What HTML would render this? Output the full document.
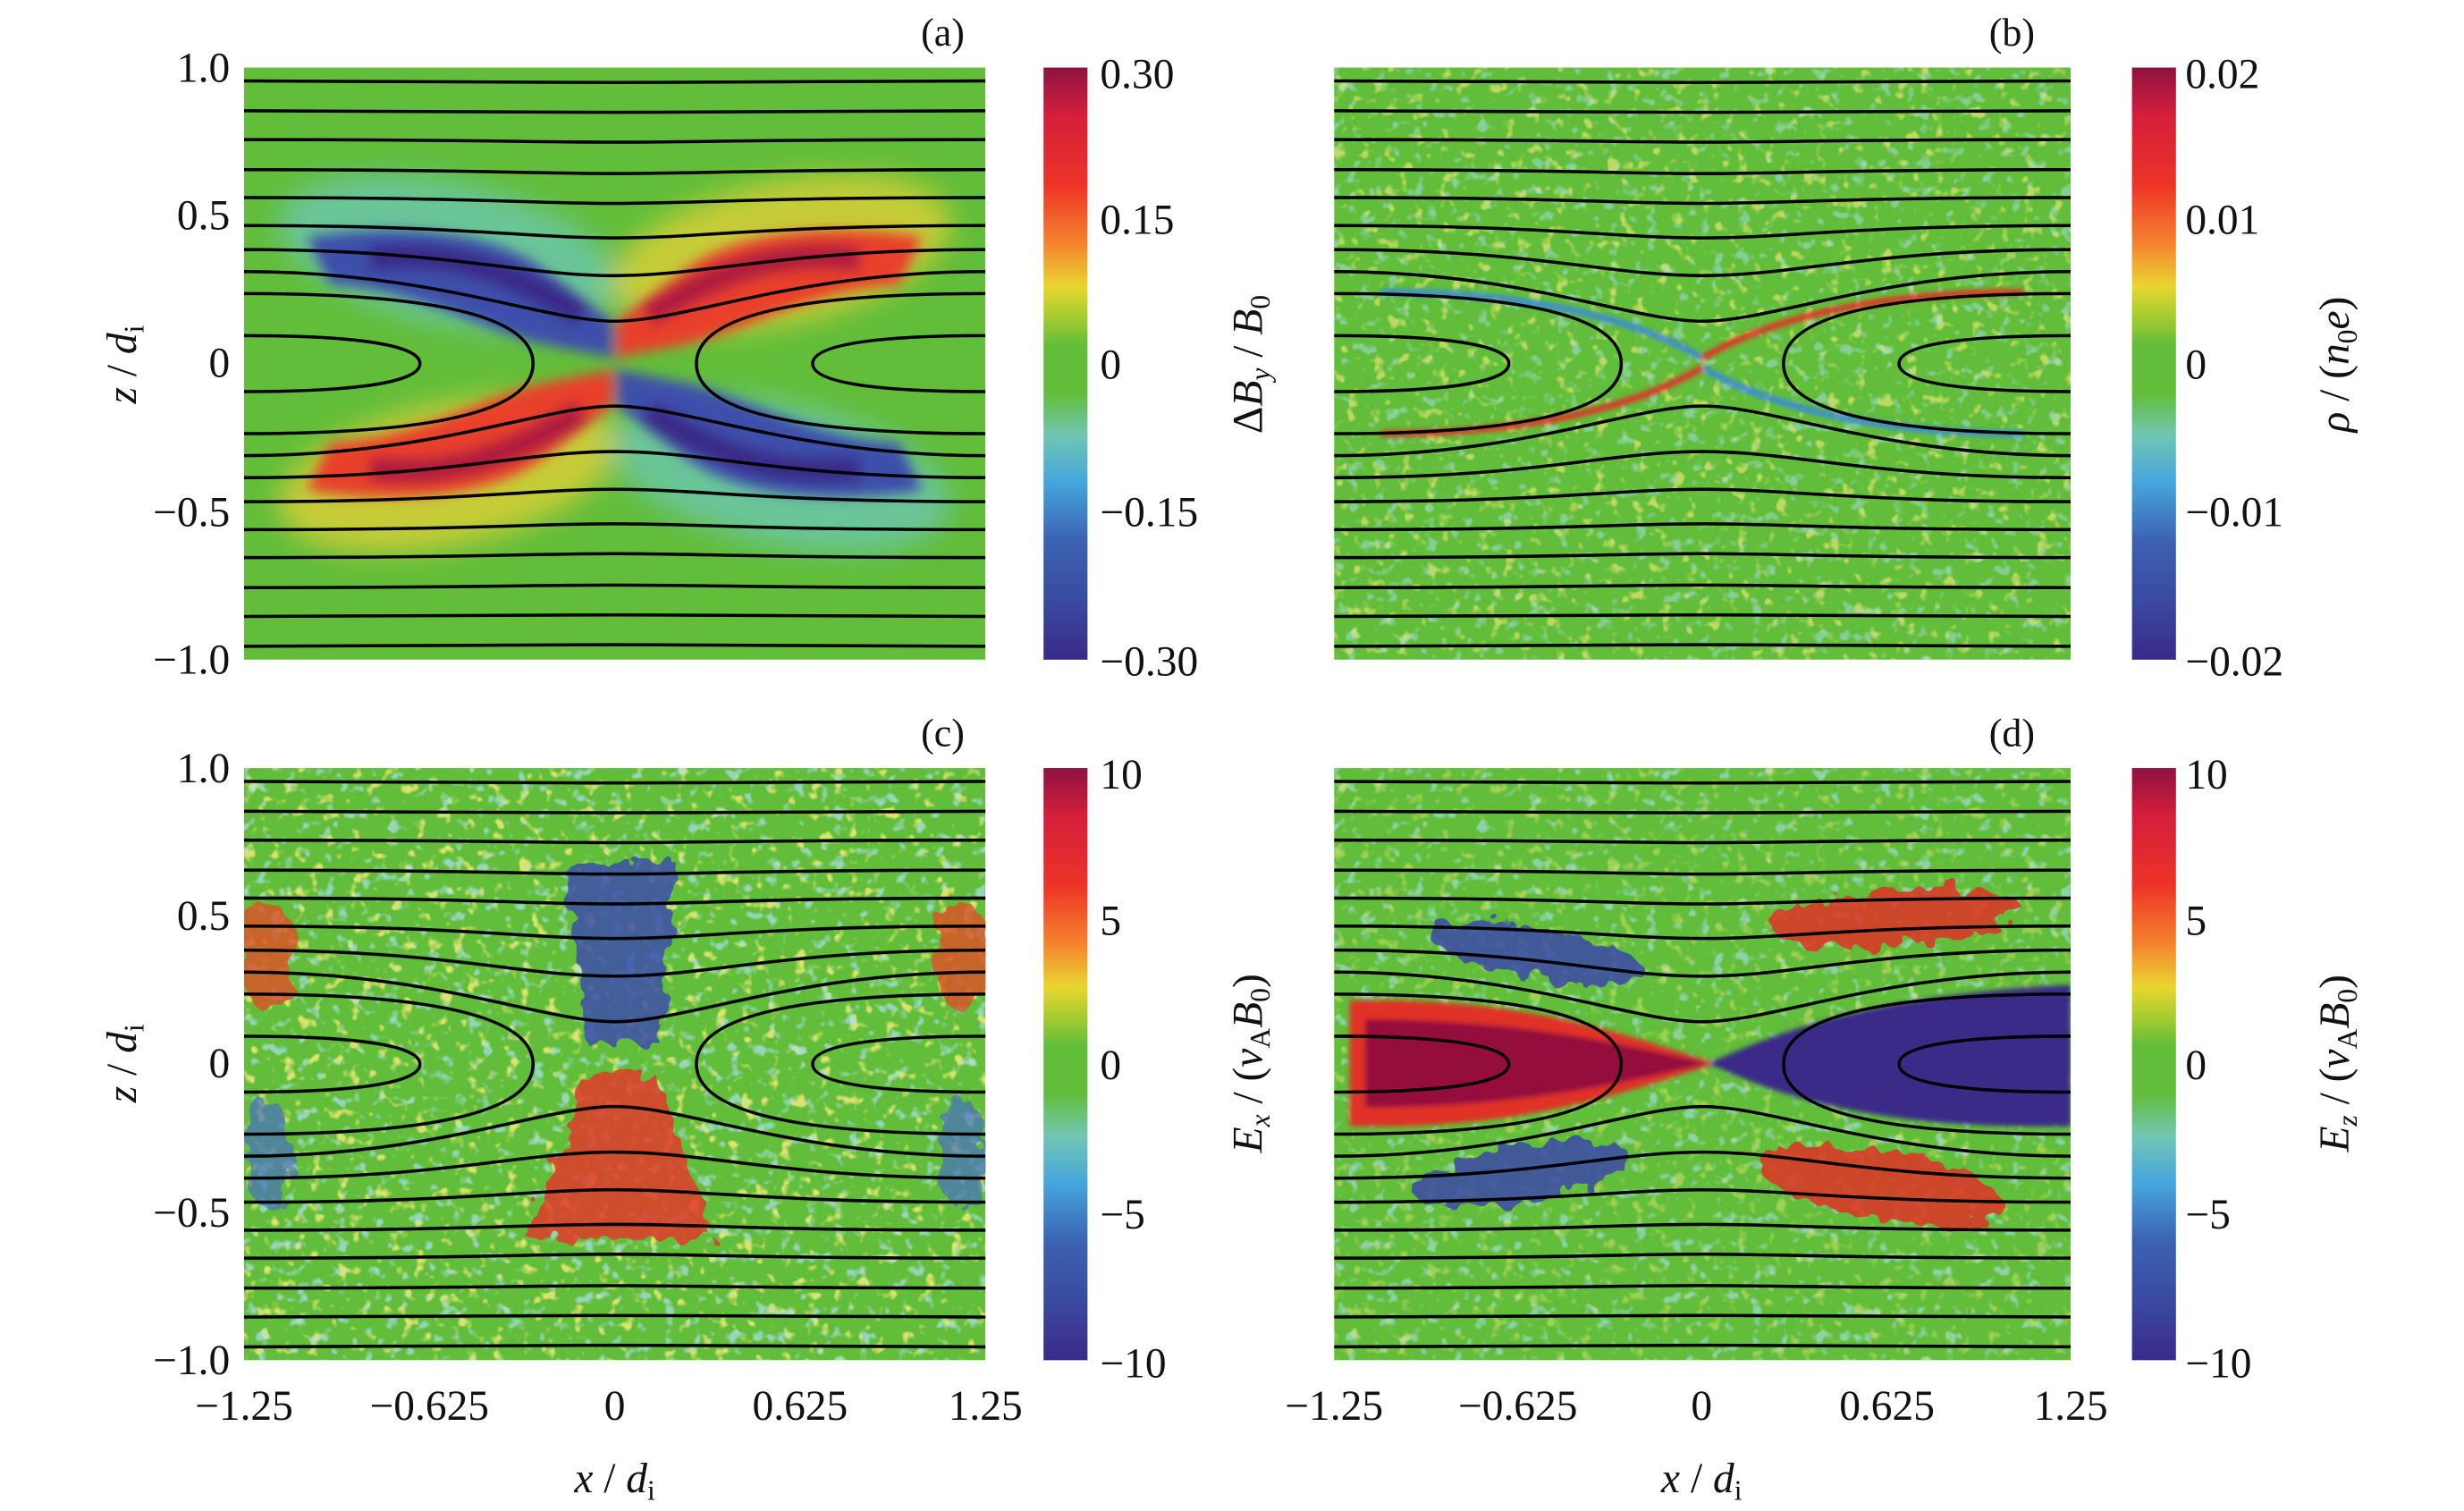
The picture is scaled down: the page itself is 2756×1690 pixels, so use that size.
<!DOCTYPE html>
<html><head><meta charset="utf-8"><style>html,body{margin:0;padding:0;background:#fff}svg{display:block}</style></head>
<body>
<svg xmlns="http://www.w3.org/2000/svg" width="2756" height="1690" viewBox="0 0 1568 962" style="font-family:'Liberation Serif',serif" font-size="27">
<defs>
<filter id="bl" x="-50%" y="-50%" width="200%" height="200%"><feGaussianBlur stdDeviation="9"/></filter>
<filter id="bl2" x="-50%" y="-50%" width="200%" height="200%"><feGaussianBlur stdDeviation="4"/></filter>
<filter id="bl1" x="-50%" y="-50%" width="200%" height="200%"><feGaussianBlur stdDeviation="1.5"/></filter>
<filter id="spk" x="0" y="0" width="100%" height="100%">
<feTurbulence type="fractalNoise" baseFrequency="0.12" numOctaves="2" seed="3"/>
<feColorMatrix type="matrix" values="0 0 0 0 0.95  0 0 0 0 0.85  0 0 0 0 0.2  6 0 0 0 -3.6"/>
</filter>
<filter id="spk2" x="0" y="0" width="100%" height="100%">
<feTurbulence type="fractalNoise" baseFrequency="0.12" numOctaves="2" seed="11"/>
<feColorMatrix type="matrix" values="0 0 0 0 0.4  0 0 0 0 0.75  0 0 0 0 0.85  6 0 0 0 -3.6"/>
</filter>
<filter id="rough" x="-20%" y="-20%" width="140%" height="140%">
<feTurbulence type="fractalNoise" baseFrequency="0.08" numOctaves="2" seed="5" result="n"/>
<feDisplacementMap in="SourceGraphic" in2="n" scale="18"/>
</filter>
<linearGradient id="cb" x1="0" y1="0" x2="0" y2="1">
<stop offset="0" stop-color="#8e1240"/><stop offset="0.08" stop-color="#d41e3c"/>
<stop offset="0.2" stop-color="#ee3426"/><stop offset="0.3" stop-color="#f5862e"/>
<stop offset="0.37" stop-color="#e8d630"/><stop offset="0.42" stop-color="#a6cc30"/>
<stop offset="0.47" stop-color="#62bd3a"/><stop offset="0.55" stop-color="#62bd3a"/>
<stop offset="0.62" stop-color="#72c6b2"/><stop offset="0.7" stop-color="#46a6dc"/>
<stop offset="0.8" stop-color="#3c62b2"/><stop offset="0.9" stop-color="#3a4aa0"/>
<stop offset="1" stop-color="#3a2a88"/></linearGradient>
<clipPath id="cp"><rect x="0" y="0" width="472" height="377"/></clipPath>
<g id="lines" fill="none" stroke="#000" stroke-width="2">
<path d="M0,8.5 C150,8.5 180,9.5 236,9.5 C292,9.5 322,8.5 472,8.5"/>
<path d="M0,27.5 C150,27.5 180,28.5 236,28.5 C292,28.5 322,27.5 472,27.5"/>
<path d="M0,45.9 C150,45.9 180,47.5 236,47.5 C292,47.5 322,45.9 472,45.9"/>
<path d="M0,65 C150,65 180,67.5 236,67.5 C292,67.5 322,65 472,65"/>
<path d="M0,82.8 C150,82.8 180,86.5 236,86.5 C292,86.5 322,82.8 472,82.8"/>
<path d="M0,100.6 C140,100.6 180,108.5 236,108.5 C292,108.5 332,100.6 472,100.6"/>
<path d="M0,115.9 C130,115.9 175,132.5 236,132.5 C297,132.5 342,115.9 472,115.9"/>
<path d="M0,129.9 C120,129.9 190,161.5 236,161.5 C282,161.5 352,129.9 472,129.9"/>
<path d="M0,368.5 C150,368.5 180,367.5 236,367.5 C292,367.5 322,368.5 472,368.5"/>
<path d="M0,349.5 C150,349.5 180,348.5 236,348.5 C292,348.5 322,349.5 472,349.5"/>
<path d="M0,331.1 C150,331.1 180,329.5 236,329.5 C292,329.5 322,331.1 472,331.1"/>
<path d="M0,312 C150,312 180,309.5 236,309.5 C292,309.5 322,312 472,312"/>
<path d="M0,294.2 C150,294.2 180,290.5 236,290.5 C292,290.5 322,294.2 472,294.2"/>
<path d="M0,276.4 C140,276.4 180,268.5 236,268.5 C292,268.5 332,276.4 472,276.4"/>
<path d="M0,261.1 C130,261.1 175,244.5 236,244.5 C297,244.5 342,261.1 472,261.1"/>
<path d="M0,247.1 C120,247.1 190,215.5 236,215.5 C282,215.5 352,247.1 472,247.1"/>
<path d="M0,143.9 C120,143.9 184,158 184,188.5 C184,219 120,233.1 0,233.1"/>
<path d="M0,170.7 C80,170.7 112,178 112,188.5 C112,199 80,206.3 0,206.3"/>
<path d="M472,143.9 C352,143.9 288,158 288,188.5 C288,219 352,233.1 472,233.1"/>
<path d="M472,170.7 C392,170.7 362,178 362,188.5 C362,199 392,206.3 472,206.3"/>
</g>
<g id="ulblue">
<path d="M40,108 C100,98 160,105 190,128 C210,142 225,155 235,162 L235,185 C215,180 195,178 175,172 C140,160 100,140 55,138 Z"/>
</g>
</defs>
<rect width="1568" height="962" fill="#fff"/>

<!-- Panel a -->
<g transform="translate(155,43)">
<g clip-path="url(#cp)">
<rect width="472" height="377" fill="#62bd3a"/>
<g filter="url(#bl)" opacity="0.8">
<ellipse cx="130" cy="118" rx="110" ry="45" fill="#6cc8b0" transform="rotate(12 130 118)"/>
<ellipse cx="342" cy="118" rx="110" ry="45" fill="#e0d038" transform="rotate(-12 342 118)"/>
<ellipse cx="130" cy="259" rx="110" ry="45" fill="#e0d038" transform="rotate(-12 130 259)"/>
<ellipse cx="342" cy="259" rx="110" ry="45" fill="#6cc8b0" transform="rotate(12 342 259)"/>
</g>
<g filter="url(#bl2)">
<use href="#ulblue" fill="#3c50aa"/>
<use href="#ulblue" fill="#e8402a" transform="matrix(-1 0 0 1 472 0)"/>
<use href="#ulblue" fill="#e8402a" transform="matrix(1 0 0 -1 0 377)"/>
<use href="#ulblue" fill="#3c50aa" transform="matrix(-1 0 0 -1 472 377)"/>
<path d="M80,122 C130,115 170,130 215,158" stroke="#3a2a88" stroke-width="16" fill="none"/>
<path d="M392,122 C342,115 302,130 257,158" stroke="#b01a3e" stroke-width="16" fill="none"/>
<path d="M80,255 C130,262 170,247 215,219" stroke="#b01a3e" stroke-width="16" fill="none"/>
<path d="M392,255 C342,262 302,247 257,219" stroke="#3a2a88" stroke-width="16" fill="none"/>
</g>
<use href="#lines"/>
</g></g>

<!-- Panel b -->
<g transform="translate(849,43) scale(0.9936,1)">
<g clip-path="url(#cp)">
<rect width="472" height="377" fill="#62bd3a"/>
<rect width="472" height="377" filter="url(#spk)" opacity="0.6"/>
<rect width="472" height="377" filter="url(#spk2)" opacity="0.5"/>
<g filter="url(#bl1)" fill="none" stroke-width="4">
<path d="M30,143 C120,143 190,158 236,185" stroke="#3a8ad8"/>
<path d="M442,233 C352,233 282,218 236,191" stroke="#3a8ad8"/>
<path d="M30,233 C120,233 190,218 236,191" stroke="#e03228"/>
<path d="M442,143 C352,143 282,158 236,185" stroke="#e03228"/>
</g>
<use href="#lines"/>
</g></g>

<!-- Panel c -->
<g transform="translate(155,489)">
<g clip-path="url(#cp)">
<rect width="472" height="377" fill="#62bd3a"/>
<rect width="472" height="377" filter="url(#spk)" opacity="0.8"/>
<rect width="472" height="377" filter="url(#spk2)" opacity="0.7"/>
<g filter="url(#rough)">
<path d="M205,60 L275,60 L265,175 L218,175 Z" fill="#3c50aa" opacity="0.85"/>
<path d="M218,195 L262,195 L300,300 L180,300 Z" fill="#e03a28" opacity="0.85"/>
<ellipse cx="15" cy="120" rx="18" ry="35" fill="#e05028" opacity="0.8"/>
<ellipse cx="457" cy="120" rx="18" ry="35" fill="#e05028" opacity="0.8"/>
<ellipse cx="15" cy="245" rx="15" ry="35" fill="#4a70c0" opacity="0.7"/>
<ellipse cx="457" cy="245" rx="15" ry="35" fill="#4a70c0" opacity="0.7"/>
</g>
<use href="#lines"/>
</g></g>

<!-- Panel d -->
<g transform="translate(849,489) scale(0.9936,1)">
<g clip-path="url(#cp)">
<rect width="472" height="377" fill="#62bd3a"/>
<rect width="472" height="377" filter="url(#spk2)" opacity="0.6"/>
<rect width="472" height="377" filter="url(#spk)" opacity="0.4"/>
<g filter="url(#rough)" opacity="0.85">
<ellipse cx="130" cy="118" rx="70" ry="16" fill="#3a4aa8" transform="rotate(10 130 118)"/>
<ellipse cx="120" cy="258" rx="70" ry="18" fill="#3a4aa8" transform="rotate(-10 120 258)"/>
<ellipse cx="360" cy="95" rx="80" ry="18" fill="#e03228" transform="rotate(-5 360 95)"/>
<ellipse cx="350" cy="265" rx="80" ry="22" fill="#e03228" transform="rotate(10 350 265)"/>
</g>
<g filter="url(#bl1)">
<path d="M10,148 C130,145 200,175 245,188 C200,201 130,231 10,228 Z" fill="#e03228"/>
<path d="M20,160 C130,160 200,180 240,188 C200,196 130,216 20,216 Z" fill="#94103c"/>
<path d="M472,138 C330,145 270,175 240,188 C270,201 330,231 472,228 Z" fill="#3a2a88"/>
</g>
<use href="#lines"/>
</g></g>

<!-- colorbars -->
<rect x="664" y="43" width="28" height="377" fill="url(#cb)"/>
<rect x="1357" y="43" width="28" height="377" fill="url(#cb)"/>
<rect x="664" y="489" width="28" height="377" fill="url(#cb)"/>
<rect x="1357" y="489" width="28" height="377" fill="url(#cb)"/>

<g fill="#111">
<g text-anchor="end">
<text x="146" y="52">1.0</text><text x="146" y="146">0.5</text><text x="146" y="240">0</text><text x="146" y="335">−0.5</text><text x="146" y="429">−1.0</text>
<text x="146" y="498">1.0</text><text x="146" y="592">0.5</text><text x="146" y="686">0</text><text x="146" y="781">−0.5</text><text x="146" y="875">−1.0</text>
</g>
<g text-anchor="middle">
<text x="155" y="904">−1.25</text><text x="273" y="904">−0.625</text><text x="391" y="904">0</text><text x="509" y="904">0.625</text><text x="627" y="904">1.25</text>
<text x="849" y="904">−1.25</text><text x="966" y="904">−0.625</text><text x="1083" y="904">0</text><text x="1201" y="904">0.625</text><text x="1318" y="904">1.25</text>
<text x="391" y="950" font-style="italic">x<tspan font-style="normal"> / </tspan>d<tspan font-style="normal" font-size="18" dy="5">i</tspan></text>
<text x="1083" y="950" font-style="italic">x<tspan font-style="normal"> / </tspan>d<tspan font-style="normal" font-size="18" dy="5">i</tspan></text>
</g>
<text transform="translate(86,232) rotate(-90)" text-anchor="middle" font-style="italic">z<tspan font-style="normal"> / </tspan>d<tspan font-style="normal" font-size="18" dy="5">i</tspan></text>
<text transform="translate(86,677) rotate(-90)" text-anchor="middle" font-style="italic">z<tspan font-style="normal"> / </tspan>d<tspan font-style="normal" font-size="18" dy="5">i</tspan></text>
<g>
<text x="700" y="56">0.30</text><text x="700" y="149">0.15</text><text x="700" y="241">0</text><text x="700" y="335">−0.15</text><text x="700" y="430">−0.30</text>
<text x="1391" y="56">0.02</text><text x="1391" y="149">0.01</text><text x="1391" y="241">0</text><text x="1391" y="335">−0.01</text><text x="1391" y="430">−0.02</text>
<text x="700" y="502">10</text><text x="700" y="595">5</text><text x="700" y="687">0</text><text x="700" y="782">−5</text><text x="700" y="877">−10</text>
<text x="1391" y="502">10</text><text x="1391" y="595">5</text><text x="1391" y="687">0</text><text x="1391" y="782">−5</text><text x="1391" y="877">−10</text>
</g>
<text transform="translate(803,232) rotate(-90)" text-anchor="middle">Δ<tspan font-style="italic">B</tspan><tspan font-size="18" font-style="italic" dy="5">y</tspan><tspan dy="-5"> / </tspan><tspan font-style="italic">B</tspan><tspan font-size="18" dy="5">0</tspan></text>
<text transform="translate(1495,232) rotate(-90)" text-anchor="middle"><tspan font-style="italic">ρ</tspan> / (<tspan font-style="italic">n</tspan><tspan font-size="18" dy="5">0</tspan><tspan dy="-5" font-style="italic">e</tspan>)</text>
<text transform="translate(803,677) rotate(-90)" text-anchor="middle"><tspan font-style="italic">E</tspan><tspan font-size="18" font-style="italic" dy="5">x</tspan><tspan dy="-5"> / (</tspan><tspan font-style="italic">v</tspan><tspan font-size="18" dy="5">A</tspan><tspan dy="-5" font-style="italic">B</tspan><tspan font-size="18" dy="5">0</tspan><tspan dy="-5">)</tspan></text>
<text transform="translate(1495,677) rotate(-90)" text-anchor="middle"><tspan font-style="italic">E</tspan><tspan font-size="18" font-style="italic" dy="5">z</tspan><tspan dy="-5"> / (</tspan><tspan font-style="italic">v</tspan><tspan font-size="18" dy="5">A</tspan><tspan dy="-5" font-style="italic">B</tspan><tspan font-size="18" dy="5">0</tspan><tspan dy="-5">)</tspan></text>
<text x="586" y="29" font-size="25">(a)</text>
<text x="1266" y="29" font-size="25">(b)</text>
<text x="586" y="475" font-size="25">(c)</text>
<text x="1266" y="475" font-size="25">(d)</text>
</g>
</svg>
</body></html>
